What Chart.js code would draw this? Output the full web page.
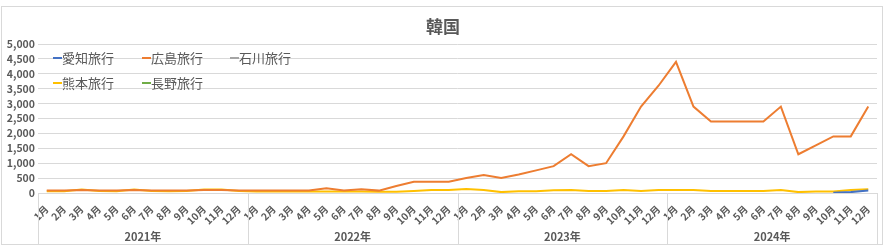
<!DOCTYPE html>
<html>
<head>
<meta charset="utf-8">
<script src="https://cdn.jsdelivr.net/npm/chart.js@4.4.1/dist/chart.umd.min.js"></script>
<style>
  html, body { margin: 0; padding: 0; background: #fff; }
</style>
</head>
<body>
<canvas id="chart" width="886" height="249"></canvas>
<script>
const chartTitle = "韓国";
const years = ["2021年", "2022年", "2023年", "2024年"];
const months = ["1月", "2月", "3月", "4月", "5月", "6月", "7月", "8月", "9月", "10月", "11月", "12月"];
const yTicks = [0, 500, 1000, 1500, 2000, 2500, 3000, 3500, 4000, 4500, 5000];

// 愛知旅行 (only shows at the very end)
const aichi2021 = [null, null, null, null, null, null, null, null, null, null, null, null];
const aichi2022 = [null, null, null, null, null, null, null, null, null, null, null, null];
const aichi2023 = [null, null, null, null, null, null, null, null, null, null, null, null];
const aichi2024 = [null, null, null, null, null, null, null, null, null, 10, 30, 80];

// 広島旅行
const hiroshima2021 = [80, 80, 100, 80, 80, 100, 80, 80, 80, 100, 100, 80];
const hiroshima2022 = [80, 80, 80, 80, 155, 80, 125, 80, 235, 380, 380, 380];
const hiroshima2023 = [500, 600, 500, 620, 760, 900, 1300, 900, 1000, 1900, 2900, 3600];
const hiroshima2024 = [4400, 2900, 2400, 2400, 2400, 2400, 2900, 1300, 1600, 1900, 1900, 2900];

// 石川旅行 / 長野旅行: no values drawn
const ishikawa = [];
const nagano = [];

// 熊本旅行
const kumamoto2021 = [60, 60, 120, 70, 60, 120, 70, 60, 70, 120, 120, 70];
const kumamoto2022 = [50, 50, 50, 50, 50, 50, 50, 40, 45, 70, 100, 100];
const kumamoto2023 = [130, 100, 30, 60, 60, 90, 100, 65, 65, 100, 65, 100];
const kumamoto2024 = [100, 100, 65, 65, 65, 65, 100, 30, 50, 50, 100, 125];

const labels = years.flatMap(() => months);
const aichi = aichi2021.concat(aichi2022, aichi2023, aichi2024);
const hiroshima = hiroshima2021.concat(hiroshima2022, hiroshima2023, hiroshima2024);
const kumamoto = kumamoto2021.concat(kumamoto2022, kumamoto2023, kumamoto2024);

const textColor = "#595959";
const lineColor = "#d9d9d9";
const fontFamily = "'Noto Sans CJK JP', 'Noto Sans', sans-serif";

// frame, title, legend and year groups like the Excel original
const excelDecor = {
    id: "excelDecor",
    beforeDraw(chart) {
        const ctx = chart.ctx;
        ctx.save();
        ctx.fillStyle = "#fff";
        ctx.fillRect(0, 0, chart.width, chart.height);
        ctx.strokeStyle = lineColor;
        ctx.lineWidth = 1;
        ctx.strokeRect(1.5, 6.5, 881, 238);
        ctx.fillStyle = textColor;
        ctx.font = "bold 17px " + fontFamily;
        ctx.textAlign = "center";
        ctx.textBaseline = "middle";
        ctx.fillText(chartTitle, 443, 27);
        ctx.restore();
    },
    afterDraw(chart) {
        const ctx = chart.ctx;
        const x = chart.scales.x;
        const area = chart.chartArea;
        const step = x.width / labels.length;
        ctx.save();

        // year separators and labels
        ctx.strokeStyle = lineColor;
        ctx.lineWidth = 1;
        for (let g = 0; g <= years.length; g++) {
            const px = Math.round(area.left + g * 12 * step) + 0.5;
            ctx.beginPath();
            ctx.moveTo(px, area.bottom);
            ctx.lineTo(px, 244);
            ctx.stroke();
        }
        ctx.fillStyle = textColor;
        ctx.font = "bold 11px " + fontFamily;
        ctx.textAlign = "center";
        ctx.textBaseline = "middle";
        years.forEach((y, g) => {
            const cx = area.left + (g * 12 + 6) * step;
            ctx.fillText(y, cx, 237);
        });

        // legend
        const pos = [[53, 58], [142, 58], [230, 58], [53, 83], [142, 83]];
        ctx.font = "13px " + fontFamily;
        ctx.textAlign = "left";
        chart.data.datasets.forEach((ds, i) => {
            const [lx, ly] = pos[i];
            ctx.strokeStyle = ds.borderColor;
            ctx.lineWidth = 2;
            ctx.beginPath();
            ctx.moveTo(lx, ly);
            ctx.lineTo(lx + 9, ly);
            ctx.stroke();
            ctx.fillStyle = textColor;
            ctx.fillText(ds.label, lx + 9, ly);
        });
        ctx.restore();
    }
};

new Chart(document.getElementById("chart"), {
    type: "line",
    data: {
        labels: labels,
        datasets: [
            { label: "愛知旅行", data: aichi, borderColor: "#4472C4" },
            { label: "広島旅行", data: hiroshima, borderColor: "#ED7D31" },
            { label: "石川旅行", data: ishikawa, borderColor: "#A5A5A5" },
            { label: "熊本旅行", data: kumamoto, borderColor: "#FFC000" },
            { label: "長野旅行", data: nagano, borderColor: "#70AD47" }
        ].map(d => Object.assign(d, { borderWidth: 2, pointRadius: 0, tension: 0, fill: false }))
    },
    options: {
        responsive: false,
        animation: false,
        layout: { padding: { top: 44, right: 9, left: 0, bottom: 0 } },
        plugins: {
            legend: { display: false },
            title: { display: false },
            tooltip: { enabled: false }
        },
        scales: {
            x: {
                offset: true,
                grid: { display: false },
                border: { display: false },
                ticks: {
                    autoSkip: false,
                    minRotation: 45,
                    maxRotation: 45,
                    padding: 2,
                    color: textColor,
                    font: { family: fontFamily, size: 10, weight: "bold" }
                },
                afterFit(scale) { scale.height = 56; }
            },
            y: {
                min: 0,
                max: 5000,
                grid: { color: lineColor, lineWidth: 1, drawTicks: false },
                border: { display: false },
                afterBuildTicks(scale) { scale.ticks = yTicks.map(v => ({ value: v })); },
                ticks: {
                    autoSkip: false,
                    padding: 3,
                    color: textColor,
                    font: { family: fontFamily, size: 10.5, weight: "bold" },
                    callback: v => v.toLocaleString("en-US")
                },
                afterFit(scale) { scale.width = 38; }
            }
        }
    },
    plugins: [excelDecor]
});
</script>
</body>
</html>
